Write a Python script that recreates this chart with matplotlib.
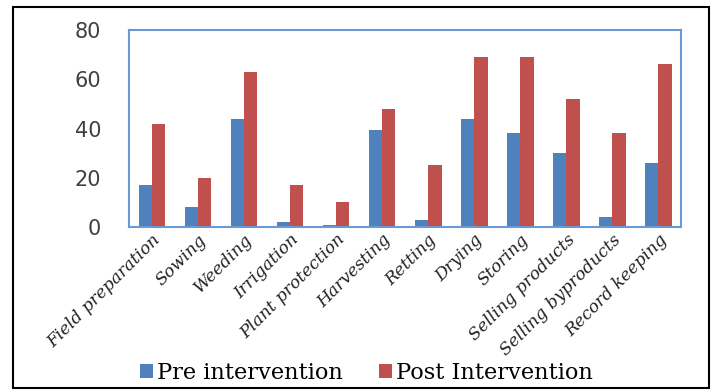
import matplotlib.pyplot as plt
import numpy as np
from matplotlib.patches import Rectangle

activities = ["Field preparation", "Sowing", "Weeding", "Irrigation",
              "Plant protection", "Harvesting", "Retting", "Drying",
              "Storing", "Selling products", "Selling byproducts",
              "Record keeping"]
pre = [17, 8, 44, 2, 1, 39.5, 3, 44, 38, 30, 4, 26]
post = [42, 20, 63, 17, 10, 48, 25, 69, 69, 52, 38, 66]

BLUE = "#4F81BD"
RED = "#C0504D"
FRAME = "#6A9AD4"

fig = plt.figure(figsize=(7.12, 3.9), dpi=100)
ax = fig.add_axes([0.181, 0.418, 0.776, 0.505])

x = np.arange(len(activities))
w = 0.29
ax.bar(x - w / 2, pre, w, color=BLUE, label="Pre intervention")
ax.bar(x + w / 2, post, w, color=RED, label="Post Intervention")

ax.set_xlim(-0.5, len(activities) - 0.5)
ax.set_ylim(0, 80)
ax.set_yticks([0, 20, 40, 60, 80])
ax.tick_params(axis="y", length=0, pad=20, labelsize=15, labelcolor="#404040")
ax.tick_params(axis="x", length=0, pad=3)
ax.set_xticks(x)
ax.set_xticklabels(activities, rotation=45, ha="right", rotation_mode="anchor",
                   family="DejaVu Serif", style="italic", fontsize=12.3, color="#222222")
for s in ax.spines.values():
    s.set_color(FRAME)
    s.set_linewidth(1.5)

fig.legend(loc="center", bbox_to_anchor=(0.515, 0.043), ncol=2, frameon=False,
           prop={"family": "DejaVu Serif", "size": 16.2},
           handlelength=0.55, handleheight=0.55, handletextpad=0.2,
           columnspacing=1.6)

# outer chart border
fig.patches.append(Rectangle((0.018, 0.005), 0.978, 0.977, transform=fig.transFigure,
                             fill=False, edgecolor="black", lw=1.5))

fig.savefig("out.png", dpi=100)
